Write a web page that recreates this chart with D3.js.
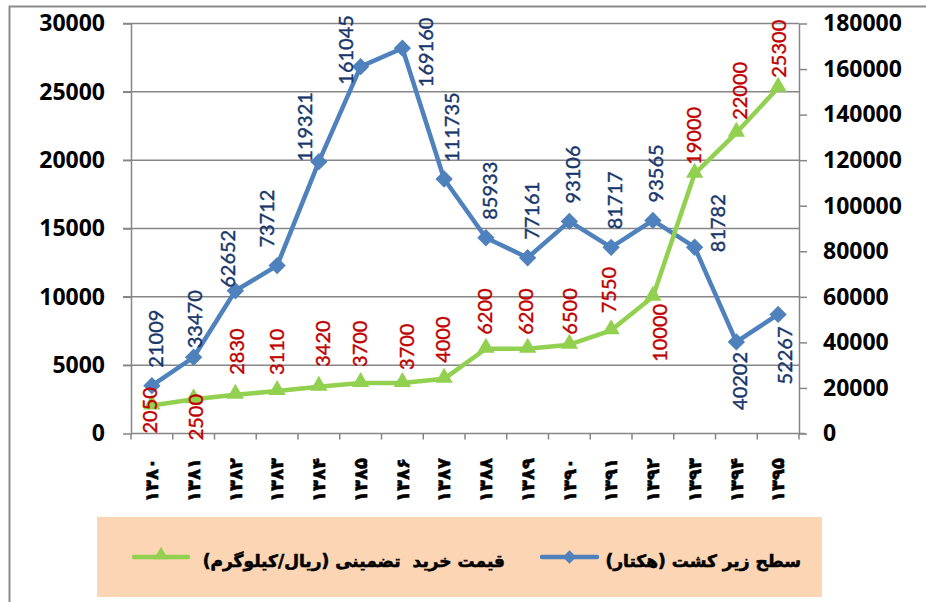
<!DOCTYPE html>
<html>
<head>
<meta charset="utf-8">
<script src="https://cdnjs.cloudflare.com/ajax/libs/d3/7.8.5/d3.min.js"></script>
<style>
  body { margin: 0; background: #fff; }
  svg { display: block; }
</style>
</head>
<body>
<svg id="chart" width="926" height="602"></svg>
<script>
// years (Persian calendar), area under cultivation (ha, right axis), guaranteed price (rial/kg, left axis)
var years = ["۱۳۸۰", "۱۳۸۱", "۱۳۸۲", "۱۳۸۳", "۱۳۸۴", "۱۳۸۵", "۱۳۸۶", "۱۳۸۷",
             "۱۳۸۸", "۱۳۸۹", "۱۳۹۰", "۱۳۹۱", "۱۳۹۲", "۱۳۹۳", "۱۳۹۴", "۱۳۹۵"];
var areaValues = [21009, 33470, 62652, 73712, 119321, 161045, 169160, 111735,
                  85933, 77161, 93106, 81717, 93565, 81782, 40202, 52267];
var priceValues = [2050, 2500, 2830, 3110, 3420, 3700, 3700, 4000,
                   6200, 6200, 6500, 7550, 10000, 19000, 22000, 25300];
var leftTicks = [0, 5000, 10000, 15000, 20000, 25000, 30000];
var rightTicks = [0, 20000, 40000, 60000, 80000, 100000, 120000, 140000, 160000, 180000];
var areaName = "سطح زیر کشت (هکتار)";
var priceName = "قیمت خرید  تضمینی (ریال/کیلوگرم)";

// label nudges (px) as Excel left them: dx across, dy = where the rotated text starts
var areaLabelDx = [4, 1, -7, -10, -14, -15, 24, 8, 4, 4, 4, 4, 3, 23, 4, 7];
var areaLabelDy = [-18, -9, -3, -18, 0, 18, 39, -17, -18, -18, -18, -18, -18, 5, 68, 70];
var priceLabelDx = [-2, 2, 2, 0, 4, -1, 5, -1, -1, -2, 1, -2, 7, -1, 4, 1];
var priceLabelDy = [28, 41, -20, -16, -20, -16, -13, -16, -14, -14, -10, -17, 65, -9, -13, -10];

var BLUE = "#4F81BD", GREEN = "#92D050", GRID = "#868686";
var PLOT = { left: 131, right: 799, top: 23.5, bottom: 433.5 };
var AXIS_FONT = "'Open Sans', 'Liberation Sans', sans-serif";

var svg = d3.select("#chart");

// outer chart border
svg.append("rect")
  .attr("x", 9.5).attr("y", 6.5).attr("width", 940).attr("height", 620)
  .attr("fill", "none").attr("stroke", "#8c8c8c").attr("stroke-width", 2);

var x = d3.scaleBand().domain(years).range([PLOT.left, PLOT.right]);
var yL = d3.scaleLinear().domain([0, 30000]).range([PLOT.bottom, PLOT.top]);
var yR = d3.scaleLinear().domain([0, 180000]).range([PLOT.bottom, PLOT.top]);
var cx = function(d, i) { return x(years[i]) + x.bandwidth() / 2; };

// gridlines
svg.append("g").selectAll("line")
  .data(leftTicks.filter(function(t) { return t > 0; }))
  .enter().append("line")
  .attr("x1", PLOT.left - 8).attr("x2", PLOT.right)
  .attr("y1", function(d) { return yL(d); })
  .attr("y2", function(d) { return yL(d); })
  .attr("stroke", GRID).attr("stroke-width", 1.5);

// left axis
var leftAxis = svg.append("g")
  .attr("transform", "translate(" + PLOT.left + ",0)")
  .call(d3.axisLeft(yL).tickValues(leftTicks).tickFormat(d3.format("d"))
    .tickSize(8).tickPadding(18).tickSizeOuter(0));

// right axis
var rightAxis = svg.append("g")
  .attr("transform", "translate(" + PLOT.right + ",0)")
  .call(d3.axisRight(yR).tickValues(rightTicks).tickFormat(d3.format("d"))
    .tickSize(8).tickPadding(16).tickSizeOuter(0));

[leftAxis, rightAxis].forEach(function(ax) {
  ax.select(".domain").attr("stroke", GRID).attr("stroke-width", 1.5);
  ax.selectAll(".tick line").attr("stroke", GRID).attr("stroke-width", 1.5);
  ax.selectAll(".tick text")
    .attr("font-family", AXIS_FONT)
    .attr("font-weight", "bold").attr("font-size", 23).attr("fill", "#000");
});

// bottom axis: line plus ticks on band edges
var bottom = svg.append("g");
bottom.append("line")
  .attr("x1", PLOT.left).attr("x2", PLOT.right + 6)
  .attr("y1", PLOT.bottom).attr("y2", PLOT.bottom)
  .attr("stroke", GRID).attr("stroke-width", 1.5);
bottom.selectAll(".xt")
  .data(years.map(function(d) { return x(d); }).concat([PLOT.right]))
  .enter().append("line")
  .attr("x1", function(d) { return d; }).attr("x2", function(d) { return d; })
  .attr("y1", PLOT.bottom).attr("y2", PLOT.bottom + 6)
  .attr("stroke", GRID).attr("stroke-width", 1.5);
bottom.selectAll(".xl")
  .data(years)
  .enter().append("text")
  .attr("transform", function(d) {
    return "translate(" + (x(d) + x.bandwidth() / 2) + "," + 458 + ") rotate(-90)";
  })
  .attr("text-anchor", "end").attr("dy", "0.35em")
  .attr("font-family", "'DejaVu Sans', sans-serif")
  .attr("font-weight", "bold").attr("font-size", 18).attr("fill", "#000")
  .attr("stroke", "#000").attr("stroke-width", 0.6)
  .text(function(d) { return d; });

// area series (right axis)
var areaLine = d3.line()
  .x(cx)
  .y(function(d) { return yR(d); });
svg.append("path")
  .attr("d", areaLine(areaValues))
  .attr("fill", "none").attr("stroke", BLUE).attr("stroke-width", 4.5)
  .attr("stroke-linejoin", "round");
var diamond = d3.symbol().type(d3.symbolSquare).size(150);
svg.append("g").selectAll("path")
  .data(areaValues).enter().append("path")
  .attr("d", diamond)
  .attr("transform", function(d, i) {
    return "translate(" + cx(d, i) + "," + yR(d) + ") rotate(45)";
  })
  .attr("fill", BLUE);

// price series (left axis)
var priceLine = d3.line()
  .x(cx)
  .y(function(d) { return yL(d); });
svg.append("path")
  .attr("d", priceLine(priceValues))
  .attr("fill", "none").attr("stroke", GREEN).attr("stroke-width", 4.5)
  .attr("stroke-linejoin", "round");
var tri = d3.symbol().type(d3.symbolTriangle).size(130);
svg.append("g").selectAll("path")
  .data(priceValues).enter().append("path")
  .attr("d", tri)
  .attr("transform", function(d, i) {
    return "translate(" + cx(d, i) + "," + (yL(d) - 1) + ")";
  })
  .attr("fill", GREEN);

// data labels, rotated
function addLabels(values, yScale, dxs, dys, color) {
  svg.append("g").selectAll("text")
    .data(values).enter().append("text")
    .attr("transform", function(d, i) {
      return "translate(" + (cx(d, i) + dxs[i]) + "," + (yScale(d) + dys[i]) + ") rotate(-90)";
    })
    .attr("dy", "0.35em")
    .attr("font-family", "Lato, 'Liberation Sans', sans-serif")
    .attr("font-size", 20).attr("fill", color)
    .attr("stroke", color).attr("stroke-width", 0.4)
    .text(function(d) { return d; });
}
addLabels(areaValues, yR, areaLabelDx, areaLabelDy, "#17366B");
addLabels(priceValues, yL, priceLabelDx, priceLabelDy, "#C00000");

// legend
var legend = svg.append("g");
legend.append("rect")
  .attr("x", 97).attr("y", 517).attr("width", 725).attr("height", 80)
  .attr("fill", "#FCD5B5");

legend.append("line")
  .attr("x1", 542).attr("x2", 597).attr("y1", 557).attr("y2", 557)
  .attr("stroke", BLUE).attr("stroke-width", 4.5).attr("stroke-linecap", "round");
legend.append("path")
  .attr("d", d3.symbol().type(d3.symbolSquare).size(90))
  .attr("transform", "translate(569.5,557) rotate(45)")
  .attr("fill", BLUE);
legend.append("text")
  .attr("x", 801).attr("y", 567)
  .attr("direction", "rtl").attr("text-anchor", "start")
  .attr("font-family", "'DejaVu Sans', sans-serif")
  .attr("font-weight", "bold").attr("font-size", 17).attr("fill", "#000")
  .attr("stroke", "#000").attr("stroke-width", 0.6)
  .style("white-space", "pre")
  .text(areaName);

legend.append("line")
  .attr("x1", 134).attr("x2", 188).attr("y1", 557).attr("y2", 557)
  .attr("stroke", GREEN).attr("stroke-width", 4.5).attr("stroke-linecap", "round");
legend.append("path")
  .attr("d", d3.symbol().type(d3.symbolTriangle).size(90))
  .attr("transform", "translate(161,555)")
  .attr("fill", GREEN);
legend.append("text")
  .attr("x", 505).attr("y", 567)
  .attr("direction", "rtl").attr("text-anchor", "start")
  .attr("font-family", "'DejaVu Sans', sans-serif")
  .attr("font-weight", "bold").attr("font-size", 17).attr("fill", "#000")
  .attr("stroke", "#000").attr("stroke-width", 0.6)
  .style("white-space", "pre")
  .text(priceName);
</script>
</body>
</html>
